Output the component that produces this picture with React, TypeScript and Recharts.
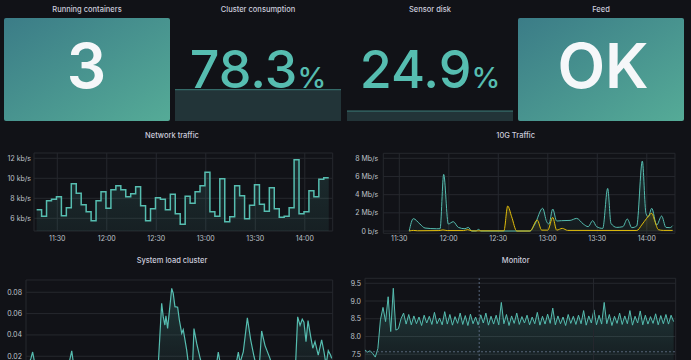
import { AreaChart, Area, XAxis, YAxis, CartesianGrid, ReferenceLine } from "recharts";

// stat values
const runningContainers = "3";
const clusterConsumption = 78.3;
const sensorDisk = 24.9;
const feedStatus = "OK";

// time axis (minutes since midnight)
const timeTicks = [690, 720, 750, 780, 810, 840];
const hourTicks = [720, 780, 840];

// Network traffic (kb/s), one value every 3 minutes from 11:17:30
const networkStart = 677.5;
const networkStep = 3;
const networkKbps = [
  6.85, 6.2, 7.75, 7.9, 8.15, 6.25, 7.05, 9.45, 8.5, 7.35, 6.65, 5.75, 7.75, 8.65, 7.0,
  8.85, 9.25, 8.85, 8.15, 8.45, 9.15, 7.25, 5.75, 6.95, 8.05, 7.9, 6.85, 8.4, 6.45, 5.4,
  8.2, 7.5, 8.65, 9.25, 10.6, 6.65, 6.2, 9.95, 5.65, 6.15, 9.25, 8.25, 5.95, 7.3, 9.35,
  7.4, 6.7, 9.05, 6.95, 6.1, 6.2, 7.05, 11.85, 6.45, 6.65, 8.75, 8.15, 9.9, 10.05,
];

// 10G traffic (Mb/s), [minute, value]
const traffic10gIn: [number, number][] = [
  [696, 0], [698.5, 1.36], [702.5, 0.77], [705.6, 0.33], [712.6, 0.25], [714.7, 0.25],
  [716.9, 6.23], [719.7, 0.77], [722.7, 1.03], [725.8, 0.4], [729.8, 0.25], [731.8, 0.4],
  [733.9, 0], [736.5, 0], [738, 0.18], [739.5, 0], [769.2, 0], [772.2, 0.77], [776.9, 2.5],
  [779.3, 1.03], [780.7, 0.77], [783, 2.42], [785.4, 1.1], [788.4, 1.14], [793.5, 1.17],
  [797.5, 1.39], [801.5, 0.77], [804.5, 0.48], [807.2, 1.14], [809.6, 0.48], [813.3, 0.29],
  [816.3, 4.69], [818.3, 0.84], [821.8, 0.4], [825.5, 0.48], [828.2, 1.32], [830.9, 0.37],
  [833.9, 0.55], [837.3, 7.7], [839.5, 1.94], [840.9, 1.57], [843, 2.5], [846, 0.66],
  [849, 1.65], [851.6, 0.4], [854, 0.37], [855.7, 0.59],
];
const traffic10gOut: [number, number][] = [
  [696, 0], [698.5, 0.07], [701, 0.03], [714, 0.05], [716.5, 0.12], [719, 0.05], [729, 0.05],
  [731.5, 0.15], [734, 0.02], [753.4, 0.02], [755.7, 2.75], [758.1, 1.57], [761.2, 0],
  [769.2, 0], [773.6, 1.21], [776.3, 0.1], [780, 0.1], [783, 1.5], [785.4, 0.1], [788.8, 0.29],
  [792, 0.07], [834, 0.06], [836.9, 0.66], [839.9, 1.39], [843, 1.94], [845, 1.03], [847, 0.15],
  [850, 0.07], [855.7, 0.07],
];

// System load cluster, [minute, load]
const systemLoad: [number, number][] = [
  [678.2, 0.012], [679.8, 0.018], [680.8, 0.024], [682.2, 0.012], [685.1, 0.006], [691, 0.008],
  [696.9, 0.005], [701.6, 0.009], [703.8, 0.025], [705.1, 0.01], [711.6, 0.006], [720.4, 0.008],
  [729.2, 0.005], [738.1, 0.007], [746.9, 0.006], [752.8, 0.008], [754.7, 0.012], [756.7, 0.0697],
  [757.6, 0.0571], [758.6, 0.0493], [759.2, 0.058], [760.2, 0.0462], [761.6, 0.068], [762.6, 0.0837],
  [763.5, 0.079], [764.5, 0.0665], [766.1, 0.066], [767.1, 0.054], [768.5, 0.0415], [769.4, 0.045],
  [771.4, 0.026], [772.5, 0.012], [774.8, 0.008], [775.7, 0.046], [777.3, 0.032], [779.2, 0.019],
  [781, 0.008], [785.1, 0.006], [788.9, 0.012], [790, 0.024], [791.3, 0.012], [795.7, 0.006],
  [800.4, 0.012], [801.8, 0.024], [802.8, 0.014], [804.7, 0.024], [807.1, 0.056], [809.1, 0.035],
  [811, 0.02], [812.8, 0.008], [814.2, 0.012], [815.5, 0.0437], [817.5, 0.03], [820.4, 0.018],
  [822.2, 0.008], [829.2, 0.006], [835.4, 0.01], [836.7, 0.057], [838.1, 0.049], [839.4, 0.0547],
  [840.4, 0.052], [841.6, 0.0337], [842.8, 0.0534], [844.4, 0.038], [845.6, 0.0275], [846.9, 0.0337],
  [848.8, 0.021], [850.8, 0.0353], [852.2, 0.024], [853.4, 0.012], [854.7, 0.0253], [856.1, 0.021],
  [856.7, 0.018],
];

// Monitor, one value every 1.5 minutes from 11:16:42
const monitorStart = 676.7;
const monitorStep = 1.5;
const monitorValues = [
  7.62, 7.56, 7.6, 7.52, 7.42, 7.66, 8.47, 8.82, 8.42, 9.12, 8.14, 9.36, 8.18, 8.22, 8.5, 8.66,
  8.35, 8.62, 8.33, 8.58, 8.36, 8.55, 8.31, 8.6, 8.38, 8.57, 8.34, 8.68, 8.36, 8.52, 8.33, 8.7,
  8.35, 8.62, 8.32, 8.56, 8.37, 8.66, 8.34, 8.59, 8.31, 8.63, 8.36, 8.55, 8.33, 8.61, 8.38, 8.66,
  8.32, 8.57, 8.35, 8.6, 8.33, 8.96, 8.36, 8.62, 8.31, 8.58, 8.37, 8.66, 8.34, 8.56, 8.38, 8.6,
  8.33, 8.55, 8.36, 8.68, 8.32, 8.57, 8.35, 8.63, 8.37, 8.8, 8.33, 8.58, 8.36, 8.55, 8.31, 8.62,
  8.37, 8.57, 8.34, 8.6, 8.36, 8.73, 8.32, 8.58, 8.38, 8.75, 8.33, 8.6, 8.35, 8.96, 8.36, 8.62,
  8.31, 8.57, 8.37, 8.66, 8.34, 8.58, 8.36, 8.73, 8.32, 8.57, 8.38, 8.72, 8.33, 8.6, 8.35, 8.56,
  8.37, 8.64, 8.33, 8.59, 8.36, 8.62, 8.35, 8.6, 8.42,
];
const monitorThreshold = 7.57;
const monitorMarkers = [743.3];

const BG = "#111217";
const TEAL = "#56bdb0";
const YELLOW = "#e3bf0c";
const GRID = "#26282e";
const TEXT = "#ccccdc";
const TICK = "#bfc2ca";
const FONT = "Inter, 'Noto Sans', sans-serif";
const tickStyle = { fill: TICK, fontSize: 7, fontFamily: FONT };

const fmtTime = (m: number) => `${Math.floor(m / 60)}:${String(Math.round(m % 60)).padStart(2, "0")}`;

// y tick drawn as a plain svg text so long labels never wrap
const yTick = (fmt: (v: number) => string) => (props: any) => (
  <text x={props.x} y={props.y} dy={2.5} textAnchor="end" fill={TICK} fontSize={7} fontFamily={FONT}>
    {fmt(props.payload.value)}
  </text>
);

const networkTable = [
  ...networkKbps.map((v, i) => ({ t: networkStart + i * networkStep, v })),
  { t: networkStart + networkKbps.length * networkStep, v: networkKbps[networkKbps.length - 1] },
];
const inTable = traffic10gIn.map(([t, v]) => ({ t, v }));
const outTable = traffic10gOut.map(([t, v]) => ({ t, v }));
const loadTable = systemLoad.map(([t, v]) => ({ t, v }));
const monitorTable = monitorValues.map((v, i) => ({ t: monitorStart + i * monitorStep, v }));

const axisCommon = { axisLine: false, tickLine: false, tickSize: 0, interval: 0 as const, allowDataOverflow: true };

function Spark({ value, left }: { value: number; left: number }) {
  const data = [{ x: 0, v: value }, { x: 1, v: value }];
  return (
    <div style={{ position: "absolute", left, top: 81 }}>
      <AreaChart width={166} height={40} data={data} margin={{ top: 0, right: 0, bottom: 0, left: 0 }}>
        <XAxis type="number" dataKey="x" domain={[0, 1]} hide />
        <YAxis type="number" domain={[0, 100]} hide />
        <Area type="linear" dataKey="v" stroke="#3c7c78" strokeWidth={1} fill="#223438" fillOpacity={1} isAnimationActive={false} dot={false} activeDot={false} />
      </AreaChart>
    </div>
  );
}

function Title({ x, y, text }: { x: number; y: number; text: string }) {
  return (
    <text x={x} y={y + 2.6} textAnchor="middle" fill={TEXT} fontSize={7.5} fontWeight={500} fontFamily={FONT}>
      {text}
    </text>
  );
}

export default function App() {
  return (
    <div style={{ position: "fixed", left: 0, top: 0, width: 691, height: 360, overflow: "hidden", background: BG, fontFamily: FONT }}>
      <svg width={691} height={360} style={{ position: "absolute", left: 0, top: 0 }}>
        <defs>
          <linearGradient id="statBg" x1="0" y1="0" x2="1" y2="1">
            <stop offset="0%" stopColor="#3b7c87" />
            <stop offset="100%" stopColor="#55ab97" />
          </linearGradient>
        </defs>
        <Title x={87} y={9} text="Running containers" />
        <Title x={258} y={9} text="Cluster consumption" />
        <Title x={430} y={9} text="Sensor disk" />
        <Title x={601} y={9} text="Feed" />
        <Title x={172} y={135} text="Network traffic" />
        <Title x={515.7} y={135} text="10G Traffic" />
        <Title x={172} y={260.7} text="System load cluster" />
        <Title x={515.7} y={260.7} text="Monitor" />

        <rect x={4} y={18} width={166} height={103} rx={2} fill="url(#statBg)" />
        <text x={86.5} y={88} textAnchor="middle" fill="#f5f7f9" fontSize={62} fontWeight={600} fontFamily={FONT}>
          {runningContainers}
        </text>

        <rect x={518} y={18} width={166} height={103} rx={2} fill="url(#statBg)" />
        <text x={603} y={88} textAnchor="middle" fill="#f5f7f9" fontSize={62} fontWeight={600} fontFamily={FONT}>
          {feedStatus}
        </text>
      </svg>

      <Spark value={clusterConsumption} left={175} />
      <Spark value={sensorDisk} left={347} />
      <svg width={691} height={130} style={{ position: "absolute", left: 0, top: 0 }}>
        <text x={258} y={88} textAnchor="middle" fill={TEAL} fontWeight={500} fontFamily={FONT}>
          <tspan fontSize={52}>{clusterConsumption.toFixed(1)}</tspan>
          <tspan fontSize={29}>%</tspan>
        </text>
        <text x={430} y={88} textAnchor="middle" fill={TEAL} fontWeight={500} fontFamily={FONT}>
          <tspan fontSize={52}>{sensorDisk.toFixed(1)}</tspan>
          <tspan fontSize={29}>%</tspan>
        </text>
      </svg>

      {/* Network traffic */}
      <div style={{ position: "absolute", left: 0, top: 150 }}>
        <AreaChart width={340} height={100} data={networkTable} margin={{ top: 3, right: 7.3, bottom: 0, left: 0 }}>
          <defs>
            <linearGradient id="netFill" x1="0" y1="0" x2="0" y2="1">
              <stop offset="0%" stopColor={TEAL} stopOpacity={0.16} />
              <stop offset="100%" stopColor={TEAL} stopOpacity={0.08} />
            </linearGradient>
          </defs>
          <CartesianGrid stroke={GRID} />
          <XAxis type="number" dataKey="t" domain={[675.9, 856.9]} ticks={timeTicks} tickFormatter={fmtTime} tick={tickStyle} tickMargin={5} height={19} {...axisCommon} />
          <YAxis type="number" domain={[4.73, 12.53]} ticks={[6, 8, 10, 12]} tick={yTick((v) => `${v} kb/s`)} width={34} tickMargin={3} {...axisCommon} />
          <Area type="stepAfter" dataKey="v" stroke={TEAL} strokeWidth={1.5} fill="url(#netFill)" fillOpacity={1} isAnimationActive={false} dot={false} activeDot={false} />
        </AreaChart>
      </div>

      {/* 10G Traffic */}
      <div style={{ position: "absolute", left: 345, top: 150 }}>
        <AreaChart width={337.3} height={100} margin={{ top: 3.3, right: 7.3, bottom: 0, left: 0 }}>
          <defs>
            <linearGradient id="inFill" x1="0" y1="0" x2="0" y2="1">
              <stop offset="0%" stopColor={TEAL} stopOpacity={0.2} />
              <stop offset="100%" stopColor={TEAL} stopOpacity={0.05} />
            </linearGradient>
            <linearGradient id="outFill" x1="0" y1="0" x2="0" y2="1">
              <stop offset="0%" stopColor={YELLOW} stopOpacity={0.2} />
              <stop offset="100%" stopColor={YELLOW} stopOpacity={0.05} />
            </linearGradient>
          </defs>
          <CartesianGrid stroke={GRID} />
          <XAxis type="number" dataKey="t" domain={[680.3, 857.1]} ticks={timeTicks} tickFormatter={fmtTime} tick={tickStyle} tickMargin={2.5} height={16.7} {...axisCommon} />
          <YAxis type="number" domain={[-0.25, 8.55]} ticks={[0, 2, 4, 6, 8]} tick={yTick((v) => (v === 0 ? "0 b/s" : `${v} Mb/s`))} width={38.3} tickMargin={5} {...axisCommon} />
          <Area data={inTable} type="monotone" dataKey="v" stroke={TEAL} strokeWidth={1} fill="url(#inFill)" fillOpacity={1} isAnimationActive={false} dot={false} activeDot={false} />
          <Area data={outTable} type="monotone" dataKey="v" stroke={YELLOW} strokeWidth={1} fill="url(#outFill)" fillOpacity={1} isAnimationActive={false} dot={false} activeDot={false} />
        </AreaChart>
      </div>

      {/* System load cluster (time labels fall below the visible area) */}
      <div style={{ position: "absolute", left: 0, top: 270 }}>
        <AreaChart width={340} height={127.6} data={loadTable} margin={{ top: 10, right: 7.3, bottom: 0, left: 0 }}>
          <defs>
            <linearGradient id="loadFill" x1="0" y1="0" x2="0" y2="1">
              <stop offset="0%" stopColor={TEAL} stopOpacity={0.22} />
              <stop offset="100%" stopColor={TEAL} stopOpacity={0.04} />
            </linearGradient>
          </defs>
          <CartesianGrid stroke={GRID} />
          <XAxis type="number" dataKey="t" domain={[676.9, 857.3]} ticks={timeTicks} tick={false} height={20} {...axisCommon} />
          <YAxis type="number" domain={[0, 0.0915]} ticks={[0.02, 0.04, 0.06, 0.08]} tick={yTick((v) => v.toFixed(2))} width={26} tickMargin={4} {...axisCommon} />
          <Area type="linear" dataKey="v" stroke={TEAL} strokeWidth={1.2} fill="url(#loadFill)" fillOpacity={1} isAnimationActive={false} dot={false} activeDot={false} />
        </AreaChart>
      </div>

      {/* Monitor */}
      <div style={{ position: "absolute", left: 345, top: 270 }}>
        <AreaChart width={338} height={122} data={monitorTable} margin={{ top: 8.3, right: 7.3, bottom: 0, left: 0 }}>
          <defs>
            <linearGradient id="monFill" x1="0" y1="0" x2="0" y2="1">
              <stop offset="0%" stopColor={TEAL} stopOpacity={0.25} />
              <stop offset="100%" stopColor={TEAL} stopOpacity={0.04} />
            </linearGradient>
          </defs>
          <CartesianGrid stroke={GRID} />
          <XAxis type="number" dataKey="t" domain={[676.7, 857.9]} ticks={hourTicks} tick={false} height={20} {...axisCommon} />
          <YAxis type="number" domain={[7.0, 9.64]} ticks={[7.5, 8.0, 8.5, 9.0, 9.5]} tick={yTick((v) => v.toFixed(1))} width={20} tickMargin={4} {...axisCommon} />
          <Area type="linear" dataKey="v" stroke={TEAL} strokeWidth={1} fill="url(#monFill)" fillOpacity={1} isAnimationActive={false} dot={false} activeDot={false} />
          <ReferenceLine x={810} stroke={GRID} />
          {monitorMarkers.map((m) => (
            <ReferenceLine key={m} x={m} stroke="#56657a" strokeDasharray="2 2" />
          ))}
          <ReferenceLine y={monitorThreshold} stroke="#56657a" strokeDasharray="2 2" />
        </AreaChart>
      </div>
    </div>
  );
}
